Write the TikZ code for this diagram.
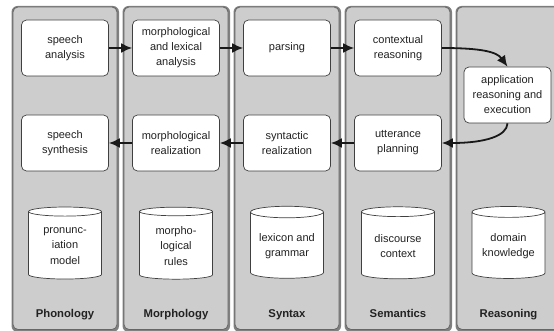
\documentclass[tikz,border=0pt]{standalone}
\usepackage{fontspec}
\setmainfont{Liberation Sans}
\usetikzlibrary{shapes.geometric,arrows.meta}
\definecolor{colfill}{HTML}{CDCDCD}
\definecolor{txt}{HTML}{222222}
\begin{document}
\begin{tikzpicture}[x=1pt,y=-1pt,
  lane/.style={fill=colfill, draw=black!60, line width=0.8pt, rounded corners=5pt},
  laneshadow/.style={fill=black!50, rounded corners=6pt},
  proc/.style={draw=black!75, fill=white, rounded corners=5pt, minimum width=87pt,
    minimum height=56pt, align=center, inner sep=1pt, text=txt, line width=0.7pt,
    font=\fontsize{11}{15}\selectfont},
  store/.style={cylinder, shape border rotate=90, aspect=0.2, draw=black!75, fill=white,
    minimum width=73pt, minimum height=72pt, align=center, inner sep=1pt, text=txt,
    line width=0.7pt, font=\fontsize{11}{15.5}\selectfont},
  lbl/.style={text=txt, anchor=base, font=\fontsize{11.3}{14}\selectfont\bfseries},
  flow/.style={line width=1.8pt, draw=black!90, -{Latex[length=11pt,width=10pt]}}
]
\useasboundingbox (0,0) rectangle (554,331);
% lane shadows
\foreach \x in {13,124,235,346,457}{
  \fill[laneshadow] (\x-1.5,6) rectangle (\x+106,332);
}
% lanes
\foreach \x in {13,124,235,346,457}{
  \draw[lane] (\x,7) rectangle (\x+104,329.5);
}
% processing boxes
\node[proc] (sa) at (65,48) {speech\\analysis};
\node[proc] (mla) at (176,48) {morphological\\and lexical\\analysis};
\node[proc] (par) at (287,48) {parsing};
\node[proc] (ctx) at (398,48) {contextual\\reasoning};
\node[proc] (app) at (507.5,95) {application\\reasoning and\\execution};
\node[proc] (ss) at (65,143) {speech\\synthesis};
\node[proc] (mr) at (176,143) {morphological\\realization};
\node[proc] (sr) at (287,143) {syntactic\\realization};
\node[proc] (up) at (398,143) {utterance\\planning};
% stores
\node[store] (pm) at (65,246) {pronunc-\\iation\\model};
\node[store] (mrl) at (176,246) {morpho-\\logical\\rules};
\node[store] (lg) at (287,246) {lexicon and\\grammar};
\node[store] (dc) at (398,246) {discourse\\context};
\node[store] (dk) at (508.5,246) {domain\\knowledge};
% labels
\node[lbl] (l1) at (65,317.5) {Phonology};
\node[lbl] (l2) at (176,317.5) {Morphology};
\node[lbl] (l3) at (287,317.5) {Syntax};
\node[lbl] (l4) at (398,317.5) {Semantics};
\node[lbl] (l5) at (508.5,317.5) {Reasoning};
% flows
\draw[flow] (sa) -- (mla);
\draw[flow] (mla) -- (par);
\draw[flow] (par) -- (ctx);
\draw[flow] (ctx.east) .. controls (482,48) and (497,52) .. (app.north);
\draw[flow] (app.south) .. controls (507,136) and (485,143) .. (up.east);
\draw[flow] (up) -- (sr);
\draw[flow] (sr) -- (mr);
\draw[flow] (mr) -- (ss);
\end{tikzpicture}
\end{document}
